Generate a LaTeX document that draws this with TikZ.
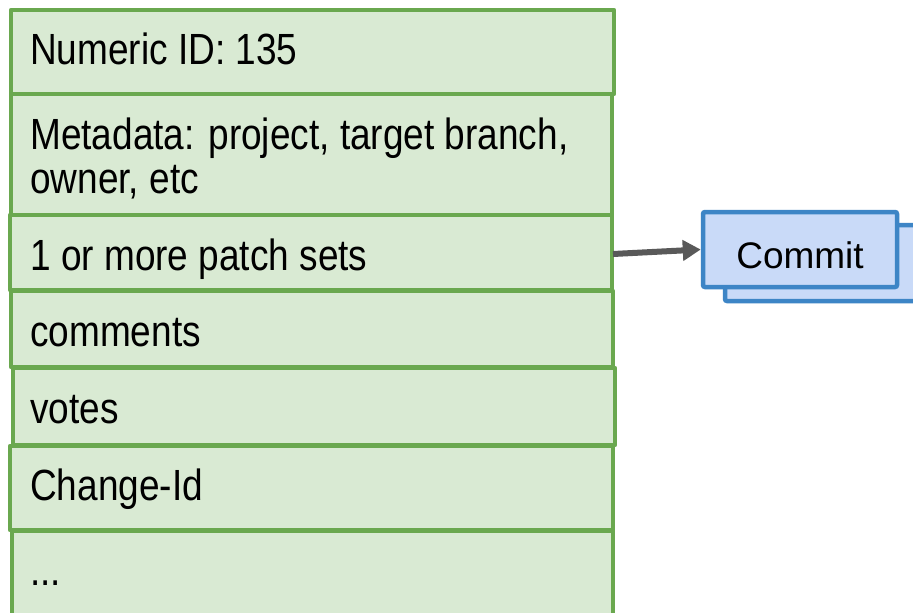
\documentclass[tikz,border=0pt]{standalone}
\usepackage{fontspec}
\setmainfont{Liberation Sans}
\usetikzlibrary{arrows.meta}
\definecolor{rowfill}{HTML}{D9EAD3}
\definecolor{rowline}{HTML}{6AA84F}
\definecolor{cfill}{HTML}{C9DAF8}
\definecolor{cline}{HTML}{3D85C6}
\definecolor{arrowgray}{HTML}{595959}
\tikzset{
  row/.style={draw=rowline, fill=rowfill, line width=4.5pt, line join=round, rectangle, inner sep=0pt},
  rowtext/.style={anchor=base west, inner sep=0pt, font=\fontsize{37}{39}\selectfont},
  commitbox/.style={draw=cline, fill=cfill, line width=4.5pt, rounded corners=2pt, inner sep=0pt},
  link/.style={draw=arrowgray, line width=6pt, -{Triangle[length=18pt,width=20pt]}}
}
\newcommand{\tallrow}[1]{\scalebox{1}[1.18]{#1}}
\begin{document}
\begin{tikzpicture}[x=1pt,y=-1pt]
  \clip (0,0) rectangle (913,613);
  \fill[white] (0,0) rectangle (913,613);
  % stacked record fields
  \node[row, minimum width=601pt, minimum height=85pt] (r7) at ({(12+613)/2},{(531+616)/2}) {};
  \node[row, minimum width=603pt, minimum height=84pt] (r6) at ({(10+613)/2},{(446+530)/2}) {};
  \node[row, minimum width=602pt, minimum height=77pt] (r5) at ({(13+615)/2},{(368+445)/2}) {};
  \node[row, minimum width=602pt, minimum height=76pt] (r4) at ({(11+613)/2},{(291+367)/2}) {};
  \node[row, minimum width=602pt, minimum height=75pt] (r3) at ({(10+612)/2},{(215+290)/2}) {};
  \node[row, minimum width=601pt, minimum height=121pt] (r2) at ({(11+612)/2},{(94+215)/2}) {};
  \node[row, minimum width=603pt, minimum height=84pt] (r1) at ({(11+614)/2},{(10+94)/2}) {};
  % field labels
  \node[rowtext] (t1) at (30,64) {\tallrow{Numeric ID: 135}};
  \node[rowtext] (t2a) at (30,149) {\tallrow{Metadata: project, target branch,}};
  \node[rowtext] (t2b) at (30,193) {\tallrow{owner, etc}};
  \node[rowtext] (t3) at (30,270) {\tallrow{1 or more patch sets}};
  \node[rowtext] (t4) at (30,346) {\tallrow{comments}};
  \node[rowtext] (t5) at (30,423) {\tallrow{votes}};
  \node[rowtext] (t6) at (30,500) {\tallrow{Change-Id}};
  \node[rowtext] (t7) at (30,585) {\tallrow{...}};
  % stacked commit boxes
  \node[commitbox, minimum width=200pt, minimum height=76pt] (cback) at ({(725+925)/2},{(225+301)/2}) {};
  \node[commitbox, minimum width=194pt, minimum height=75pt] (commit) at ({(703+897)/2},{(212+287)/2}) {};
  \node[anchor=base, inner sep=0pt, font=\fontsize{37}{40}\selectfont] (ctext) at ([yshift=-19pt]commit.center) {Commit};
  % patch set points to its commit
  \coordinate (src) at (613,254);
  \draw[link] (src) -- (commit.west);
\end{tikzpicture}
\end{document}
